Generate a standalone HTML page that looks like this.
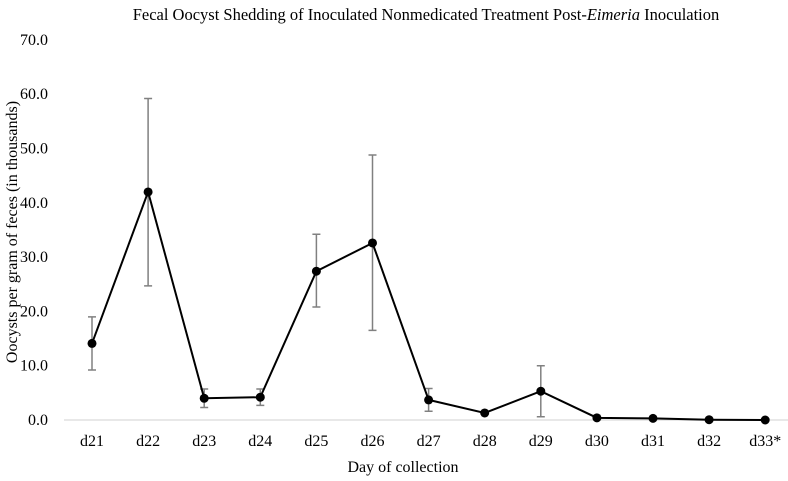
<!DOCTYPE html>
<html><head><meta charset="utf-8"><style>
body{margin:0;background:#fff}
svg{display:block;font-family:"Liberation Serif",serif}
</style></head><body>
<svg id="c" width="788" height="481">
<text x="426" y="20" text-anchor="middle" font-size="16.5">Fecal Oocyst Shedding of Inoculated Nonmedicated Treatment Post-<tspan font-style="italic">Eimeria</tspan> Inoculation</text>
<text transform="translate(17,232) rotate(-90)" text-anchor="middle" font-size="16">Oocysts per gram of feces (in thousands)</text>
<text x="403" y="472" text-anchor="middle" font-size="16">Day of collection</text>
<line x1="64" y1="420" x2="790" y2="420" stroke="#d9d9d9" stroke-width="1.2"/>
<g id="g"></g>
</svg>
<script>
const categories=["d21","d22","d23","d24","d25","d26","d27","d28","d29","d30","d31","d32","d33*"];
const values=[14.1,42.0,4.0,4.2,27.4,32.6,3.7,1.3,5.3,0.4,0.3,0.05,0.0];
const errLow=[9.2,24.7,2.3,2.7,20.8,16.5,1.6,1.3,0.6,0.4,0.3,0.05,0.0];
const errHigh=[19.0,59.2,5.7,5.7,34.2,48.8,5.8,1.3,10.0,0.4,0.3,0.05,0.0];
const yTicks=[0,10,20,30,40,50,60,70];
const NS='http://www.w3.org/2000/svg';
const g=document.getElementById('g');
const x=i=>92+i*56.1;
const y=v=>420-v*5.43;
function mk(t,a){const e=document.createElementNS(NS,t);for(const k in a)e.setAttribute(k,a[k]);g.appendChild(e);return e;}
yTicks.forEach(v=>{const t=mk('text',{x:48,y:y(v)+5,'text-anchor':'end','font-size':16});t.textContent=v.toFixed(1);

});
categories.forEach((c,i)=>{const t=mk('text',{x:x(i),y:446,'text-anchor':'middle','font-size':16});t.textContent=c;

});
categories.forEach((c,i)=>{if(errHigh[i]-errLow[i]<0.5)return;
const e=mk('path',{d:`M${x(i)},${y(errLow[i])}V${y(errHigh[i])}M${x(i)-4},${y(errLow[i])}h8M${x(i)-4},${y(errHigh[i])}h8`,stroke:'#808080','stroke-width':1.5,fill:'none'});

});
const l=mk('polyline',{points:values.map((v,i)=>x(i)+','+y(v)).join(' '),fill:'none',stroke:'#000','stroke-width':2});


values.forEach((v,i)=>{const p=mk('circle',{cx:x(i),cy:y(v),r:4.5,fill:'#000'});

});
</script>
</body></html>
